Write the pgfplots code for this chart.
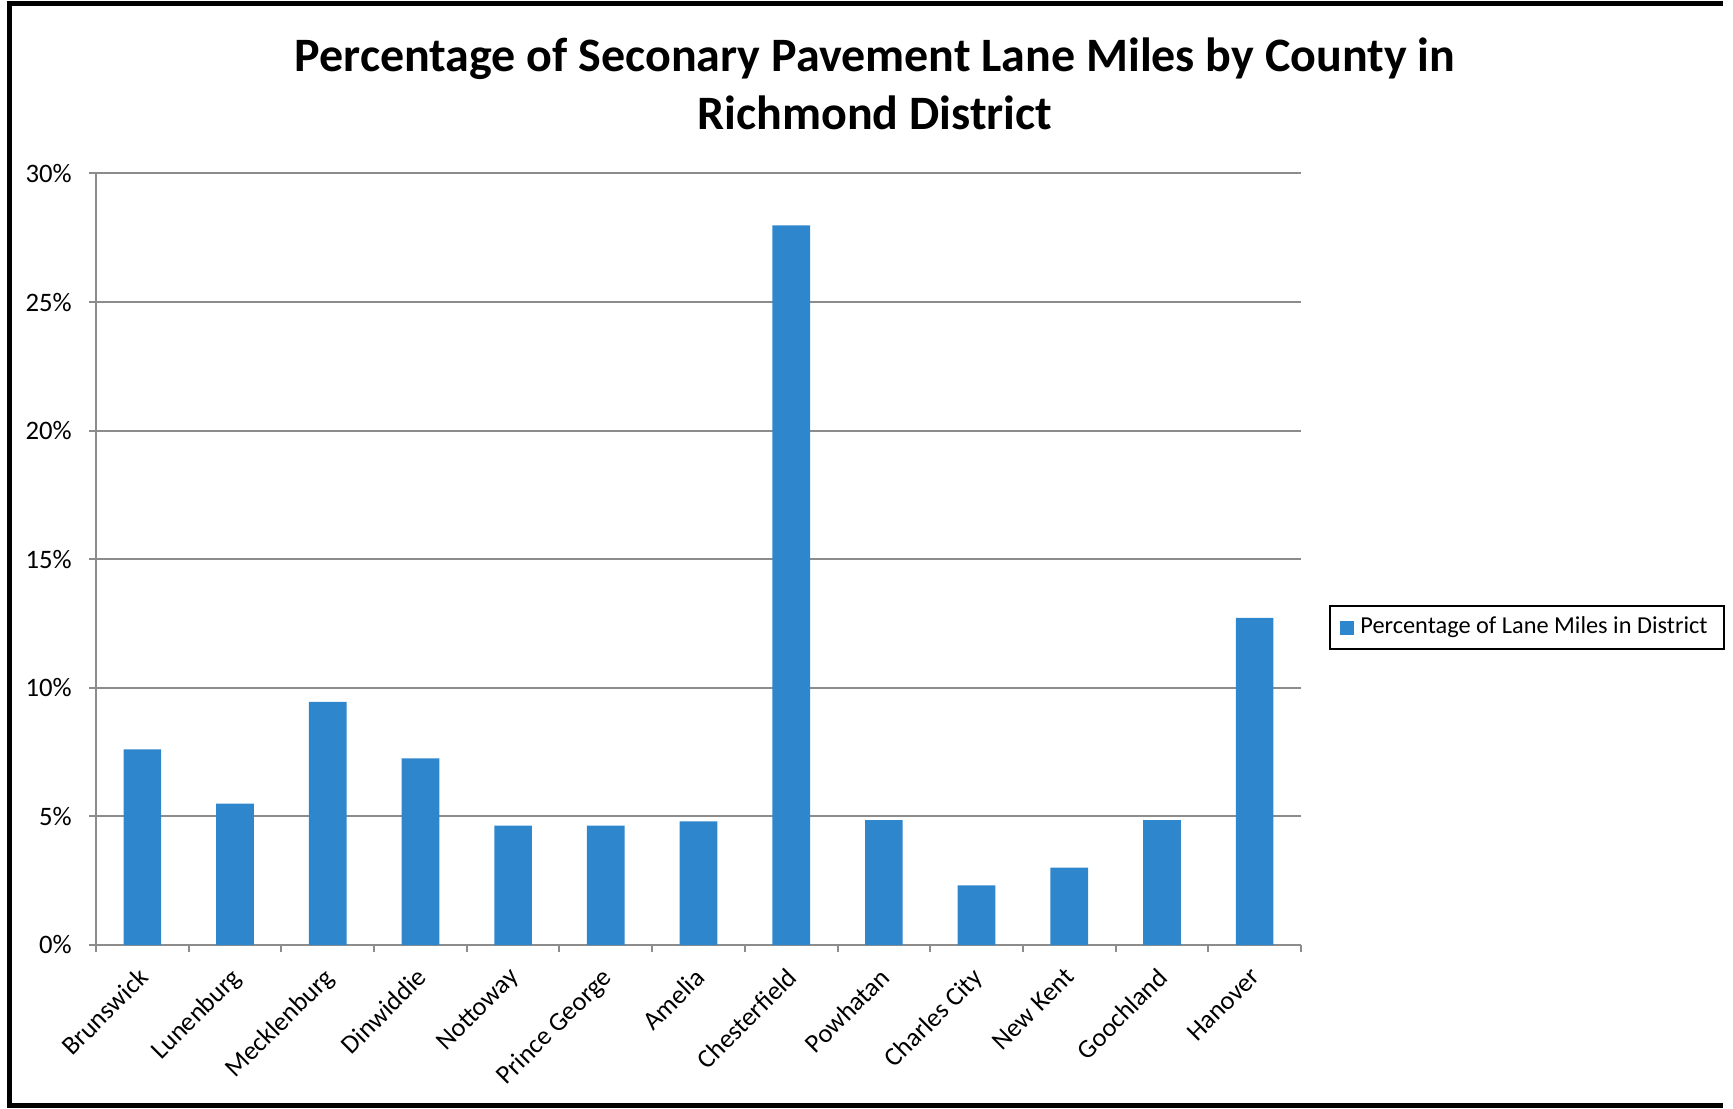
\documentclass[border=0pt]{standalone}
\usepackage{pgfplots}
\pgfplotsset{compat=1.18}
\usepackage{fontspec}
\setmainfont{Carlito}
\definecolor{barblue}{RGB}{46,134,204}
\definecolor{gridgray}{RGB}{140,140,140}
\begin{document}
\begin{tikzpicture}
\useasboundingbox (0,0) rectangle (519.9pt,332.4pt);
\draw[line width=1.5pt,black] (1.95pt,331.2pt) -- (517pt,331.2pt);
\draw[line width=1.5pt,black] (2.7pt,331.95pt) -- (2.7pt,0.15pt);
\draw[line width=1.5pt,black] (1.95pt,0.9pt) -- (517pt,0.9pt);
\node[align=center,font=\fontsize{14.4}{17.4}\selectfont\bfseries] at (262.5pt,307.2pt)
  {Percentage of Seconary Pavement Lane Miles by County in\\Richmond District};
\begin{axis}[
  at={(28.8pt,48.9pt)}, anchor=south west,
  scale only axis, width=361.5pt, height=231.45pt,
  ybar, bar width=11.3pt,
  xmin=-0.5, xmax=12.5, ymin=0, ymax=30,
  axis x line*=bottom, axis y line*=left,
  axis line style={gridgray, line width=0.6pt},
  xtick={0,...,12},
  xticklabels={Brunswick,Lunenburg,Mecklenburg,Dinwiddie,Nottoway,Prince George,Amelia,Chesterfield,Powhatan,Charles City,New Kent,Goochland,Hanover},
  major x tick style={draw=none},
  minor xtick={-0.5,0.5,...,12.5},
  minor x tick style={gridgray, line width=0.6pt},
  minor tick length=2.1pt,
  tick align=outside,
  ytick={0,5,...,30},
  yticklabels={0\%,5\%,10\%,15\%,20\%,25\%,30\%},
  major y tick style={gridgray, line width=0.6pt},
  major tick length=2.1pt,
  ymajorgrids, grid style={gridgray, line width=0.6pt},
  /pgf/number format/assume math mode=true,
  yticklabel style={font=\fontsize{8}{9}\selectfont, inner sep=0pt, xshift=-5pt},
  xticklabel style={font=\fontsize{7.9}{9}\selectfont, xshift=-1.65pt, yshift=-2.65pt, rotate=45, anchor=north east, inner sep=1pt},
  legend style={at={(1.0232,0.4115)}, anchor=west, draw=black, line width=0.5pt,
     font=\fontsize{7.3}{9}\selectfont, inner xsep=3pt, inner ysep=1.2pt},
  legend image code/.code={\fill[barblue] (0pt,-2.1pt) rectangle (4.2pt,2.1pt);},
]
\addplot[fill=barblue, draw=none] coordinates {
  (0,7.61) (1,5.50) (2,9.45) (3,7.26) (4,4.64) (5,4.64) (6,4.81)
  (7,27.98) (8,4.86) (9,2.32) (10,3.01) (11,4.86) (12,12.72)};
\addlegendentry{Percentage of Lane Miles in District}
\end{axis}
\end{tikzpicture}
\end{document}
